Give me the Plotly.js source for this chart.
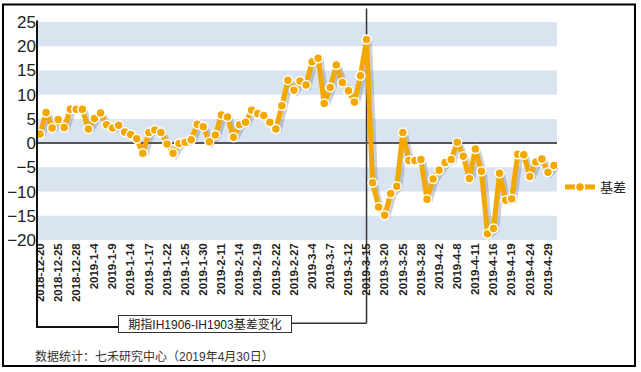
<!DOCTYPE html>
<html><head><meta charset="utf-8">
<script src="https://cdn.plot.ly/plotly-3.0.1.min.js"></script>
<style>html,body{margin:0;padding:0;background:#fff}#chart{width:641px;height:372px}</style>
</head><body><div id="chart"></div>
<script>
const dates = [
 '2018-12-20','2018-12-21','2018-12-24','2018-12-25','2018-12-26','2018-12-27','2018-12-28',
 '2019-1-2','2019-1-3','2019-1-4','2019-1-7','2019-1-8','2019-1-9','2019-1-10','2019-1-11',
 '2019-1-14','2019-1-15','2019-1-16','2019-1-17','2019-1-18','2019-1-21','2019-1-22','2019-1-23',
 '2019-1-24','2019-1-25','2019-1-28','2019-1-29','2019-1-30','2019-1-31',
 '2019-2-1','2019-2-11','2019-2-12','2019-2-13','2019-2-14','2019-2-15','2019-2-18','2019-2-19',
 '2019-2-20','2019-2-21','2019-2-22','2019-2-25','2019-2-26','2019-2-27','2019-2-28',
 '2019-3-1','2019-3-4','2019-3-5','2019-3-6','2019-3-7','2019-3-8','2019-3-11','2019-3-12',
 '2019-3-13','2019-3-14','2019-3-15','2019-3-18','2019-3-19','2019-3-20','2019-3-21','2019-3-22',
 '2019-3-25','2019-3-26','2019-3-27','2019-3-28','2019-3-29',
 '2019-4-1','2019-4-2','2019-4-3','2019-4-4','2019-4-8','2019-4-9','2019-4-10','2019-4-11',
 '2019-4-12','2019-4-15','2019-4-16','2019-4-17','2019-4-18','2019-4-19','2019-4-22','2019-4-23',
 '2019-4-24','2019-4-25','2019-4-26','2019-4-29','2019-4-30'
];
const basis = [
 1.9, 6.3, 3.1, 4.9, 3.2, 7.0, 7.0,
 7.0, 2.9, 5.1, 6.2, 3.8, 3.1, 3.7, 2.3,
 1.8, 0.9, -2.1, 2.2, 2.7, 2.2, -0.2, -2.1,
 -0.1, 0.2, 0.7, 3.9, 3.4, 0.3,
 1.7, 5.8, 5.4, 1.2, 3.8, 4.3, 6.8, 6.1,
 5.7, 4.3, 2.9, 7.7, 13.0, 10.9, 12.8,
 12.0, 16.8, 17.5, 8.2, 11.5, 16.1, 12.5, 10.8,
 8.5, 13.9, 21.4, -8.2, -13.2, -14.9, -10.4, -8.9,
 2.2, -3.6, -3.6, -3.4, -11.6,
 -7.4, -5.6, -4.0, -3.4, 0.2, -2.7, -7.3, -1.2,
 -5.8, -18.7, -17.6, -6.2, -11.8, -11.5, -2.3, -2.4,
 -6.9, -3.9, -3.3, -6.0, -4.6
];
const seriesName = '基差';
const yTicks = [-20, -15, -10, -5, 0, 5, 10, 15, 20, 25];
const bandRanges = [[20, 25], [10, 15], [0, 5], [-10, -5], [-20, -15]];
const boxLabel = '期指IH1906-IH1903基差变化';
const sourceNote = '数据统计：七禾研究中心（2019年4月30日）';
const markerDate = '2019-3-15';

const L = 37, T = 21.5, PW = 523, PH = 221;
const dxp = 3 / PW, dyp = 2 / PH;
const xp = px => (px - L) / PW;
const yp = py => 1 - (py - T) / PH;
const FONT = '"Liberation Sans", Arial, "Noto Sans CJK SC", sans-serif';
const ORANGE = '#f3a800';
const tickVals = dates.filter((d, i) => i % 3 === 0);
const markerIdx = dates.indexOf(markerDate);

const traces = [
  {x: dates, y: basis, xaxis: 'x', yaxis: 'y', mode: 'lines', showlegend: false, hoverinfo: 'skip',
   line: {color: 'rgba(110,120,140,0.35)', width: 5}},
  {x: dates, y: basis, xaxis: 'x2', yaxis: 'y2', mode: 'lines+markers', name: seriesName,
   line: {color: ORANGE, width: 5},
   marker: {size: 9, color: ORANGE, line: {color: '#ffffff', width: 1.5}}}
];

const shapes = bandRanges.map(b => ({type: 'rect', xref: 'paper', x0: 0, x1: 1 - dxp, yref: 'y2', y0: b[0], y1: b[1],
  fillcolor: '#dae4f0', line: {width: 0}, layer: 'below'}));
shapes.push({type: 'line', xref: 'x2', x0: markerIdx, x1: markerIdx, yref: 'paper', y0: yp(324), y1: yp(8),
  line: {color: '#333', width: 1.5}, layer: 'below'});
shapes.push({type: 'path', xref: 'paper', yref: 'paper',
  path: `M${xp(37)},${yp(20)} L${xp(37)},${yp(328)} L${xp(118)},${yp(328)}`,
  line: {color: '#111', width: 2}});
shapes.push({type: 'path', xref: 'paper', yref: 'paper',
  path: `M${xp(292)},${yp(324)} L${xp(366.5)},${yp(324)}`,
  line: {color: '#333', width: 1.5}});
shapes.push({type: 'rect', xref: 'paper', yref: 'paper', x0: xp(3), x1: xp(635), y0: yp(367), y1: yp(4),
  line: {color: '#000', width: 2}, fillcolor: 'rgba(0,0,0,0)'});

const layout = {
  width: 641, height: 372,
  margin: {l: L, r: 641 - L - PW, t: T, b: 372 - T - PH, pad: 0},
  paper_bgcolor: '#ffffff', plot_bgcolor: 'rgba(0,0,0,0)',
  font: {family: FONT, color: '#222'},
  xaxis: {domain: [dxp, 1], anchor: 'y', type: 'category', categoryorder: 'array', categoryarray: dates,
    range: [-0.5, dates.length - 0.5], visible: false},
  yaxis: {domain: [0, 1 - dyp], anchor: 'x', range: [-20, 25], visible: false},
  xaxis2: {domain: [0, 1 - dxp], anchor: 'y2', type: 'category', categoryorder: 'array', categoryarray: dates,
    range: [-0.5, dates.length - 0.5], tickmode: 'array', tickvals: tickVals, ticktext: tickVals,
    tickangle: -90, tickfont: {family: FONT, size: 11.5, color: '#222', weight: 'bold'},
    showgrid: false, zeroline: false, showline: false, ticks: ''},
  yaxis2: {domain: [dyp, 1], anchor: 'x2', range: [-20, 25], tickmode: 'array', tickvals: yTicks,
    tickfont: {family: FONT, size: 17, color: '#222'}, showgrid: false, ticks: '', showline: false,
    zeroline: true, zerolinecolor: '#555', zerolinewidth: 1.5},
  shapes: shapes,
  annotations: [
    {xref: 'paper', yref: 'paper', x: xp(205), y: yp(325), xanchor: 'center', yanchor: 'middle',
     text: boxLabel, showarrow: false, font: {family: FONT, size: 12, color: '#222'},
     bordercolor: '#333', borderwidth: 1, borderpad: 1, bgcolor: '#ffffff', width: 170, height: 14},
    {xref: 'paper', yref: 'paper', x: xp(33), y: yp(358), xanchor: 'left', yanchor: 'middle',
     text: sourceNote, showarrow: false, font: {family: FONT, size: 12, color: '#333'}}
  ],
  showlegend: true,
  legend: {xref: 'container', yref: 'container', x: 560 / 641, xanchor: 'left', y: 1 - 187 / 372, yanchor: 'middle',
    font: {family: FONT, size: 13, color: '#222'}, bgcolor: 'rgba(0,0,0,0)', borderwidth: 0}
};

Plotly.newPlot('chart', traces, layout, {staticPlot: true, displayModeBar: false});
</script>
</body></html>
